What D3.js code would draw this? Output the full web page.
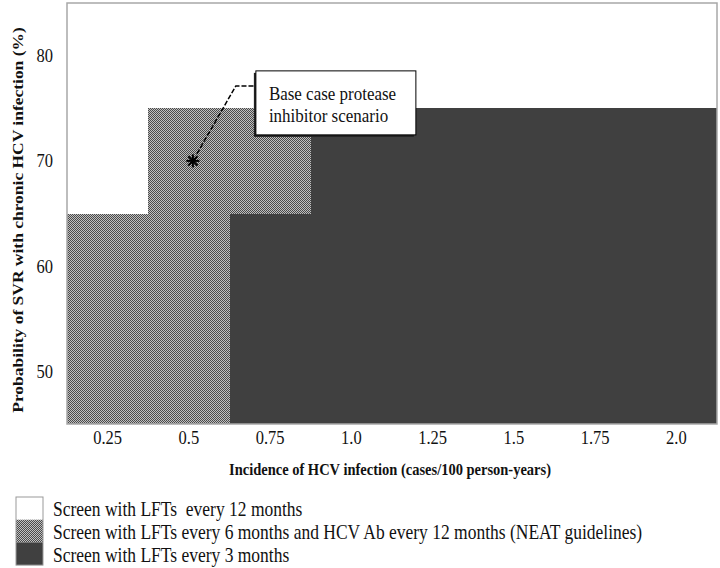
<!DOCTYPE html>
<html>
<head>
<meta charset="utf-8">
<script src="https://cdn.jsdelivr.net/npm/d3@7"></script>
<style>
  html, body { margin: 0; padding: 0; background: #fff; }
  svg { display: block; font-family: "Liberation Serif", "Times New Roman", serif; }
  text { white-space: pre; }
</style>
</head>
<body>
<svg id="chart" width="720" height="568"></svg>
<script>
// ---- data ----
const xCategories = ["0.25", "0.5", "0.75", "1.0", "1.25", "1.5", "1.75", "2.0"];
const yCategories = [50, 60, 70, 80];
const yTicks = [50, 60, 70, 80];
// strategy index per cell (0 = every 12 months, 1 = NEAT, 2 = every 3 months)
const row50 = [1, 1, 2, 2, 2, 2, 2, 2];
const row60 = [1, 1, 2, 2, 2, 2, 2, 2];
const row70 = [0, 1, 1, 2, 2, 2, 2, 2];
const row80 = [0, 0, 0, 0, 0, 0, 0, 0];
const strategies = [
  "Screen with LFTs  every 12 months",
  "Screen with LFTs every 6 months and HCV Ab every 12 months (NEAT guidelines)",
  "Screen with LFTs every 3 months"
];
const baseCaseX = "0.5";
const baseCaseY = 70;
const annotationLines = ["Base case protease", "inhibitor scenario"];
const xTitle = "Incidence of HCV infection (cases/100 person-years)";
const yTitle = "Probability of SVR with chronic HCV infection (%)";

// ---- layout ----
const svg = d3.select("#chart");
const margin = { left: 67, top: 3 };
const W = 650, H = 421;
const K = 1.15; // vertical stretch of the lettering in the reference

function stretch(sel) {
  sel.each(function () {
    const t = d3.select(this);
    const tx = +t.attr("x") || 0, ty = +t.attr("y") || 0;
    t.attr("x", 0).attr("y", 0).attr("transform", `translate(${tx},${ty}) scale(1,${K})`);
  });
}

const defs = svg.append("defs");
const pat = defs.append("pattern").attr("id", "checker")
  .attr("patternUnits", "userSpaceOnUse").attr("width", 2).attr("height", 2);
pat.append("rect").attr("width", 2).attr("height", 2).attr("fill", "#c0c0c0");
pat.append("rect").attr("x", 0).attr("y", 0).attr("width", 1).attr("height", 1).attr("fill", "#4a4a4a");
pat.append("rect").attr("x", 1).attr("y", 1).attr("width", 1).attr("height", 1).attr("fill", "#4a4a4a");

const fills = ["#ffffff", "url(#checker)", "#404040"];

const g = svg.append("g").attr("transform", `translate(${margin.left},${margin.top})`);

const x = d3.scaleBand().domain(xCategories).range([0, W]).padding(0);
const y = d3.scaleLinear().domain([45, 85]).range([H, 0]);
const half = 5;

const rows = [row50, row60, row70, row80];
const cells = [];
yCategories.forEach((yv, i) => {
  rows[i].forEach((s, j) => cells.push({ x: xCategories[j], y: yv, s }));
});

g.selectAll("rect.cell").data(cells).join("rect")
  .attr("class", "cell")
  .attr("shape-rendering", "crispEdges")
  .attr("x", d => Math.round(x(d.x)))
  .attr("y", d => Math.round(y(d.y + half)))
  .attr("width", d => Math.round(x(d.x) + x.bandwidth()) - Math.round(x(d.x)))
  .attr("height", d => Math.round(y(d.y - half)) - Math.round(y(d.y + half)))
  .attr("fill", d => fills[d.s]);

// frame
g.append("rect").attr("x", 0).attr("y", 0).attr("width", W).attr("height", H)
  .attr("fill", "none").attr("stroke", "#a8a8a8").attr("stroke-width", 1.5);

// axes
const yAxis = g.append("g").call(d3.axisLeft(y).tickValues(yTicks).tickSize(0).tickPadding(14).tickFormat(d3.format("d")));
yAxis.select(".domain").remove();
yAxis.selectAll("text").attr("font-family", "Liberation Serif").attr("font-size", 16.5).attr("fill", "#111").call(stretch);

const xAxis = g.append("g").attr("transform", `translate(0,${H})`)
  .call(d3.axisBottom(x).tickSize(0).tickPadding(7));
xAxis.select(".domain").remove();
xAxis.selectAll("text").attr("font-family", "Liberation Serif").attr("font-size", 16.5).attr("fill", "#111").call(stretch);

// axis titles
svg.append("text")
  .attr("x", margin.left + W / 2 - 2).attr("y", 475)
  .attr("text-anchor", "middle").attr("font-weight", "bold").attr("font-size", 14.5).attr("fill", "#111")
  .text(xTitle).call(stretch);
svg.append("text")
  .attr("transform", `translate(23,${margin.top + 217}) rotate(-90) scale(${K},1)`)
  .attr("text-anchor", "middle").attr("font-weight", "bold").attr("font-size", 15.2).attr("fill", "#111")
  .text(yTitle);

// base case marker
const bx = x(baseCaseX) + x.bandwidth() / 2 + 4;
const by = y(baseCaseY);
const r = 6.5;
const star = g.append("g").attr("transform", `translate(${bx},${by})`);
d3.range(4).forEach(k => {
  const a = k * Math.PI / 4;
  star.append("line")
    .attr("x1", -r * Math.cos(a)).attr("y1", -r * Math.sin(a))
    .attr("x2", r * Math.cos(a)).attr("y2", r * Math.sin(a))
    .attr("stroke", "#000").attr("stroke-width", 2);
});

// annotation box
const boxX = bx + 63, boxY = by - 90, boxW = 160, boxH = 64;
g.append("path")
  .attr("d", `M${bx + 4},${by - 7} L${bx + 43},${by - 75} L${boxX},${by - 75}`)
  .attr("fill", "none").attr("stroke", "#000").attr("stroke-width", 1.5)
  .attr("stroke-dasharray", "5,2");
g.append("rect").attr("x", boxX - 2).attr("y", boxY + 2).attr("width", boxW).attr("height", boxH)
  .attr("fill", "#222");
g.append("rect").attr("x", boxX).attr("y", boxY).attr("width", boxW).attr("height", boxH)
  .attr("fill", "#fff").attr("stroke", "#000").attr("stroke-width", 1);
annotationLines.forEach((t, i) => {
  g.append("text").attr("x", boxX + 13).attr("y", boxY + 29 + i * 22)
    .attr("font-size", 17).attr("fill", "#111").text(t).call(stretch);
});

// legend
const legend = svg.append("g").attr("transform", "translate(16,497)");
const lh = 22.7;
strategies.forEach((s, i) => {
  legend.append("rect").attr("x", 0).attr("y", i * lh).attr("width", 27).attr("height", lh)
    .attr("fill", fills[i]);
  legend.append("text").attr("x", 37).attr("y", i * lh + lh / 2 + 8)
    .attr("font-size", 17.5).attr("fill", "#111").text(s).call(stretch);
});
legend.append("rect").attr("x", 0).attr("y", 0).attr("width", 27).attr("height", lh * 3)
  .attr("fill", "none").attr("stroke", "#999").attr("stroke-width", 1);
</script>
</body>
</html>
